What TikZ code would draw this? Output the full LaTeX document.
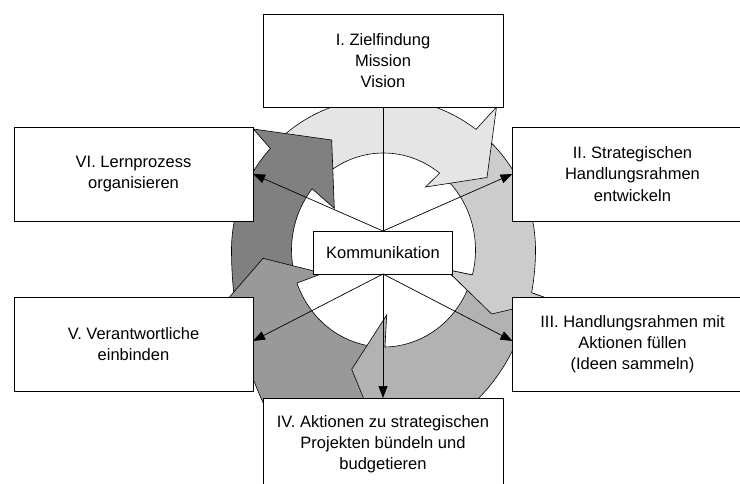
\documentclass[tikz,border=0pt]{standalone}
\usepackage{fontspec}
\setmainfont{Liberation Sans}
\usetikzlibrary{arrows.meta}
\begin{document}
\begin{tikzpicture}[x=1pt,y=-1pt,
  box/.style={draw=black, fill=white, line width=0.7pt, align=center, inner sep=0pt, outer sep=0pt,
    font=\fontsize{16.5}{21.2}\selectfont},
  seg/.style={draw=black, line width=0.6pt, line join=miter},
  link/.style={draw=black, line width=0.7pt},
  tipped/.style={-{Triangle[length=12pt,width=9pt]}}
]
\useasboundingbox (0,0) rectangle (740,483);

% ring of circular arrows: upper half round, lower half drawn deeper
\begin{scope}[shift={(383.5,250)}]
  % II -> III
  \path[seg, fill=black!20] (312:152) arc[start angle=312, end angle=360, radius=152]
    arc[start angle=0, end angle=13, x radius=152, y radius=190]
    -- (168.2,49.9) -- (108.2,64) -- (62.5,19.5) -- (374.9:92 and 97)
    arc[start angle=374.9, end angle=312, x radius=92, y radius=97] -- cycle;
  % I -> II
  \path[seg, fill=black!10] (227:152) arc[start angle=227, end angle=307.5, radius=152]
    -- (113,-143) -- (103.5,-72.5) -- (42,-63) -- (307.6:92 and 97)
    arc[start angle=307.6, end angle=227, x radius=92, y radius=97] -- cycle;
  % VI -> I
  \path[seg, fill=black!50] (163:152 and 250) arc[start angle=163, end angle=180, x radius=152, y radius=250]
    arc[start angle=180, end angle=221.9, radius=152]
    -- (-130.2,-121) -- (-51.8,-110) -- (-49.2,-41.7) -- (219.1:92 and 97)
    arc[start angle=219.1, end angle=163, x radius=92, y radius=97] -- cycle;
  % V -> VI
  \path[seg, fill=black!40] (97:152 and 250) arc[start angle=97, end angle=160, x radius=152, y radius=250]
    -- (-164.9,59.7) -- (-120.5,8.3) -- (-60.5,23.3) -- (160.1:92 and 97)
    arc[start angle=160.1, end angle=97, x radius=92, y radius=97] -- cycle;
  % III -> IV
  \path[seg, fill=black!30] (19:152 and 190) arc[start angle=19, end angle=88, x radius=152, y radius=190]
    -- (3,204.5) -- (-31.8,119.3) -- (3.2,65) -- (89.1:92 and 97)
    arc[start angle=89.1, end angle=19, x radius=92, y radius=97] -- cycle;
  % head of II -> III laid over the tail of III -> IV
  \fill[black!20] (13:152 and 190) -- (168.2,49.9) -- (108.2,64) -- (62.5,19.5) -- (374.9:92 and 97) -- cycle;
  \draw[seg] (13:152 and 190) -- (168.2,49.9) -- (108.2,64) -- (62.5,19.5) -- (374.9:92 and 97);
\end{scope}

% boxes
\node[box, minimum width=240pt, minimum height=93pt] (I) at (383,60.5)
  {I. Zielfindung\\Mission\\Vision};
\node[box, minimum width=240pt, minimum height=94pt] (II) at (632.5,174)
  {II. Strategischen\\Handlungsrahmen\\entwickeln};
\node[box, minimum width=240pt, minimum height=94pt] (III) at (632.5,344)
  {III. Handlungsrahmen mit\\Aktionen füllen\\(Ideen sammeln)};
\node[box, minimum width=240pt, minimum height=93pt] (IV) at (383,444.5)
  {IV. Aktionen zu strategischen\\Projekten bündeln und\\budgetieren};
\node[box, minimum width=239pt, minimum height=94pt] (V) at (133.5,344)
  {V. Verantwortliche\\einbinden};
\node[box, minimum width=239pt, minimum height=94pt] (VI) at (133.5,174)
  {VI. Lernprozess\\organisieren};
\node[box, minimum width=139.6pt, minimum height=43pt] (K) at (383,252.5) {Kommunikation};

% connectors
\draw[link] (K.north) -- (I.south);
\draw[link, tipped] (K.north) -- (VI.east);
\draw[link, tipped] (K.north) -- (II.west);
\draw[link, tipped] (K.south) -- ([yshift=3pt]V.east);
\draw[link, tipped] (K.south) -- ([yshift=3pt]III.west);
\draw[link, tipped] (K.south) -- (IV.north);
\end{tikzpicture}
\end{document}
